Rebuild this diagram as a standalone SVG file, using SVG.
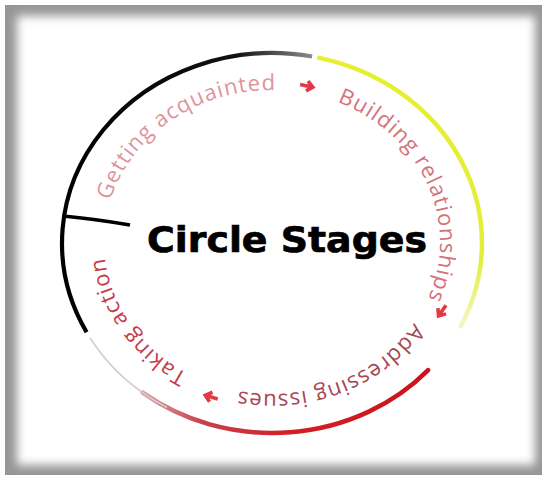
<svg xmlns="http://www.w3.org/2000/svg" width="545" height="477" viewBox="0 0 545 477">
  <style>
    .stage { font-family: "Open Sans", "Noto Sans", "Liberation Sans", sans-serif; font-size: 22px; letter-spacing: 1px; }
    .arrow { fill: none; stroke: #e23a44; stroke-width: 3.6; stroke-linecap: butt; stroke-linejoin: miter; }
    .title { font-family: "DejaVu Sans", "Liberation Sans", sans-serif; font-weight: bold; font-size: 35px; fill: #000; stroke: #000; stroke-width: 0.7; }
  </style>
  <defs>
    <filter id="soft" x="-5%" y="-5%" width="110%" height="110%">
      <feGaussianBlur stdDeviation="5"/>
    </filter>
    <linearGradient id="gBlack" gradientUnits="userSpaceOnUse" x1="62" y1="0" x2="312" y2="0">
      <stop offset="0" stop-color="#000"/>
      <stop offset="0.7" stop-color="#111"/>
      <stop offset="1" stop-color="#8a8a8a"/>
    </linearGradient>
    <linearGradient id="gYellow" gradientUnits="userSpaceOnUse" x1="0" y1="58" x2="0" y2="326">
      <stop offset="0" stop-color="#e6f030"/>
      <stop offset="0.75" stop-color="#e2ee3a"/>
      <stop offset="1" stop-color="#f4f7c4"/>
    </linearGradient>
    <linearGradient id="gRed" gradientUnits="userSpaceOnUse" x1="430" y1="370" x2="143" y2="393">
      <stop offset="0" stop-color="#c8141c"/>
      <stop offset="0.5" stop-color="#d41e26"/>
      <stop offset="0.8" stop-color="#c8404c"/>
      <stop offset="1" stop-color="#d8a0a8"/>
    </linearGradient>
    <!-- baseline ring for the stage labels, clockwise from the leftmost point -->
    <path id="ring" d="M104,242 A168,152 0 1 1 440,242 A168,152 0 1 1 104,242"/>
  </defs>

  <!-- picture frame with inner shadow -->
  <g id="frame">
    <rect width="545" height="477" fill="#fff"/>
    <rect x="5" y="5" width="537" height="470" fill="#969696"/>
    <rect x="17" y="16" width="518" height="449" fill="#fff" filter="url(#soft)"/>
  </g>

  <!-- the ring in four coloured quarters -->
  <g id="connectors" fill="none">
    <path id="arc-black" d="M86.6,332.2 A210,190 0 0 1 312.1,56.5" stroke="url(#gBlack)" stroke-width="4.2"/>
    <path id="arc-yellow" d="M319.2,57.9 A210,190 0 0 1 460.7,326.3" stroke="url(#gYellow)" stroke-width="4.5" stroke-linecap="round"/>
    <path id="arc-red" d="M428.1,370.1 A210,190 0 0 1 142.7,392.7" stroke="url(#gRed)" stroke-width="4.5" stroke-linecap="round"/>
    <path id="arc-white" d="M167,407.5 A210,190 0 0 1 90.1,338" stroke="#d6cccf" stroke-width="1.6"/>
    <path id="tick" d="M63,216 Q95,219 130,225" stroke="#000" stroke-width="3.5"/>
  </g>

  <g id="stage-getting-acquainted">
    <text class="stage" fill="#e0939c"><textPath href="#ring" startOffset="42">Getting acquainted</textPath></text>
  </g>
  <g id="stage-building-relationships">
    <text class="stage" fill="#d4727d"><textPath href="#ring" startOffset="318">Building relationships</textPath></text>
  </g>
  <g id="stage-addressing-issues">
    <text class="stage" fill="#a84654"><textPath href="#ring" startOffset="589">Addressing issues</textPath></text>
  </g>
  <g id="stage-taking-action">
    <text class="stage" fill="#c63c4a"><textPath href="#ring" startOffset="842">Taking action</textPath></text>
  </g>

  <!-- arrows between stages -->
  <g id="arrows">
    <path class="arrow" transform="translate(307,86) rotate(11.5)" d="M-7,0 H5 M0,-5 L6,0 L0,5"/>
    <path class="arrow" transform="translate(442,311) rotate(125)" d="M-7,0 H5 M0,-5 L6,0 L0,5"/>
    <path class="arrow" transform="translate(211,397) rotate(197)" d="M-7,0 H5 M0,-5 L6,0 L0,5"/>
  </g>

  <g id="title">
    <text class="title" x="147" y="252" textLength="280" lengthAdjust="spacingAndGlyphs">Circle Stages</text>
  </g>
</svg>
